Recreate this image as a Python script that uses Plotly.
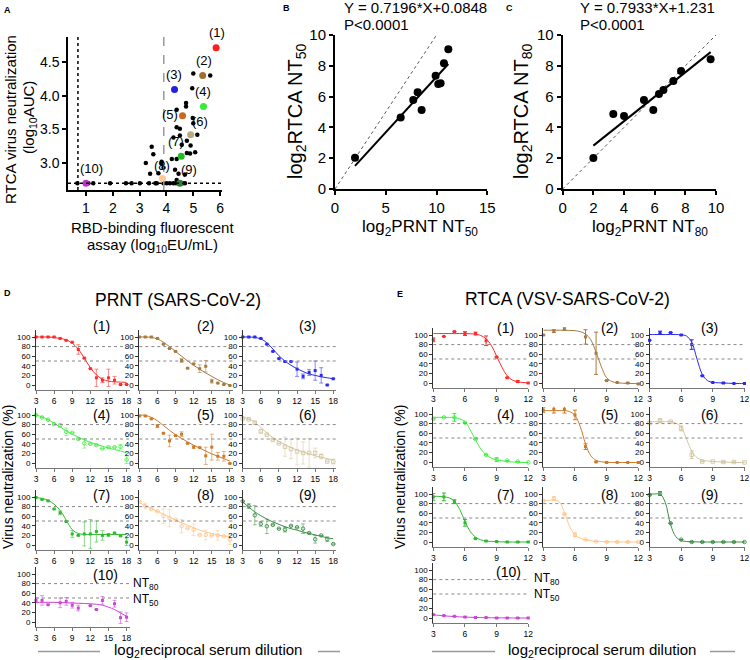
import plotly.graph_objects as go

# ---------------- data ----------------
SAMPLE_LABELS = ["(1)", "(2)", "(3)", "(4)", "(5)", "(6)", "(7)", "(8)", "(9)", "(10)"]

# A: RBD-binding assay vs RTCA AUC
A_OTHER_X = [5.0, 5.63, 4.96, 4.73, 4.73, 4.38, 4.98, 5.0, 4.38, 4.5, 4.26, 4.5, 5.15, 4.76,
             3.45, 3.51, 4.57, 4.9, 4.76, 4.88, 5.07, 4.2, 4.38, 3.82, 3.82, 3.23, 3.7, 3.39,
             3.89, 4.32, 4.45, 4.38, 4.69,
             0.68, 1.09, 1.27, 1.9, 2.49, 2.7, 3.01, 3.35, 3.59, 3.64, 3.89, 4.01, 4.13, 4.26,
             4.35, 4.45, 4.61, 4.69]
A_OTHER_Y = [4.33, 4.30, 4.11, 3.89, 3.84, 3.79, 3.67, 3.59, 3.53, 3.51, 3.38, 3.41, 3.42, 3.33,
             3.24, 3.13, 3.27, 3.26, 3.15, 3.14, 3.16, 3.06, 3.06, 3.02, 3.00, 3.00, 2.85, 2.84,
             2.93, 2.90, 2.84, 2.75, 2.83,
             2.7, 2.7, 2.7, 2.7, 2.7, 2.7, 2.7, 2.7, 2.7, 2.7, 2.7, 2.7, 2.7, 2.7,
             2.7, 2.7, 2.7, 2.7]
A_SAMPLE_X = [5.85, 5.35, 4.30, 5.38, 4.60, 4.90, 4.55, 3.85, 4.50, 1.00]
A_SAMPLE_Y = [4.71, 4.30, 4.09, 3.84, 3.70, 3.42, 3.10, 2.77, 2.70, 2.70]
A_CUTOFF_X = [0.7, 3.9]   # dotted LOD, dashed threshold
A_CUTOFF_Y = 2.7

# B / C: PRNT vs RTCA titres
B_X = [1.97, 6.47, 7.71, 8.14, 8.53, 9.91, 10.17, 10.40, 10.73, 11.16]
B_Y = [2.03, 4.65, 5.78, 6.28, 5.13, 7.36, 6.82, 6.86, 8.16, 9.07]
B_SLOPE, B_INTERCEPT = 0.7196, 0.0848
C_X = [2.00, 3.30, 4.00, 5.30, 5.91, 6.28, 6.57, 7.22, 7.72, 9.65]
C_Y = [2.01, 4.87, 4.74, 5.78, 5.13, 6.17, 6.43, 7.01, 7.66, 8.42]
C_SLOPE, C_INTERCEPT = 0.7933, 1.231
IDENTITY = [0, 10]

# D: PRNT dose-response (log2 dilution 3..18)
PRNT_X = [3, 4, 5, 6, 7, 8, 9, 10, 11, 12, 13, 14, 15, 16, 17, 18]
PRNT_MEAN = [
    [100, 100, 100, 100, 97, 93, 89, 74, 56, 34, 15, 10, 15, 10, 1, 1],
    [100, 100, 100, 97, 85, 76, 70, 51, 35, 44, 34, 39, 8, 4, 1, -1],
    [100, 100, 100, 97, 85, 70, 55, 49, 49, 33, 18, 26, 30, 20, 0, 13],
    [100, 95, 90, 81, 78, 65, 63, 50, 41, 40, 37, 30, 33, 33, 34, 7],
    [98, 98, 92, 77, 62, 46, 57, 60, 41, 33, 32, 15, 33, 14, 14, -1],
    [93, 91, 84, 66, 59, 48, 41, 34, 29, 24, 21, 21, 21, 14, 3, 3],
    [99, 95, 92, 75, 67, 49, 23, 20, 23, 23, 28, 20, 21, 25, 19, 6],
    [91, 81, 75, 70, 60, 56, 53, 39, 35, 32, 21, 21, 20, 20, 18, 11],
    [91, 81, 62, 44, 39, 42, 34, 32, 40, 37, 34, 25, 12, 20, 12, 2],
    [45, 45, 36, None, 40, 43, 35, 29, None, 34, 26, 45, None, 38, 9, 10],
]
PRNT_SD = [
    [0, 0, 0, 0, 0, 0, 0, 10, 0, 0, 18, 5, 18, 8, 0, 0],
    [0, 0, 0, 0, 0, 0, 0, 4, 0, 0, 8, 12, 4, 0, 0, 0],
    [0, 0, 0, 0, 0, 0, 0, 0, 0, 15, 5, 6, 20, 16, 0, 0],
    [0, 0, 0, 0, 4, 8, 0, 0, 10, 0, 0, 0, 0, 0, 5, 8],
    [0, 0, 0, 3, 0, 12, 0, 5, 0, 3, 0, 18, 27, 8, 10, 0],
    [0, 0, 3, 4, 0, 0, 0, 20, 20, 28, 23, 30, 10, 5, 0, 5],
    [0, 0, 0, 0, 4, 0, 7, 0, 25, 30, 22, 10, 3, 0, 0, 7],
    [0, 6, 0, 0, 15, 18, 0, 14, 0, 12, 0, 10, 0, 10, 0, 10],
    [0, 5, 20, 5, 15, 0, 0, 5, 0, 0, 10, 0, 8, 0, 5, 0],
    [5, 10, 0, 0, 10, 8, 6, 6, 0, 0, 0, 8, 0, 7, 12, 9],
]
PRNT_FIT = [
    [100, 100, 100, 99, 97, 94, 87, 75, 56, 36, 21, 12, 8, 6.5, 6, 5.5],
    [100, 100, 99, 96, 89, 80, 70, 60, 50, 41, 33, 25, 18, 11, 5, 0],
    [100, 100, 99, 96, 88, 75, 61, 50, 41, 34, 28, 23, 20, 17, 15, 13],
    [100, 96, 90, 83, 75, 67, 60, 54, 48, 43, 39, 35, 31, 28, 25, 21],
    [100, 99, 95, 88, 78, 68, 59, 51, 44, 37, 31, 25, 19, 14, 9, 4],
    [95, 92, 85, 74, 63, 53, 45, 38, 32, 27, 23, 19, 15, 12, 9, 6],
    [99, 97, 93, 85, 72, 52, 32, 24, 22, 22, 22, 22, 22, 22, 22, 22],
    [88, 82, 76, 70, 64, 58, 52, 46, 41, 36, 31, 27, 24, 21, 19, 17],
    [90, 79, 69, 61, 54, 48, 43, 38, 34, 31, 27, 24, 21, 18, 15, 13],
    [41, 41, 41, 41, 40.5, 40, 39.5, 39, 38.5, 38, 37, 35, 31, 26, 19, 12],
]

# E: RTCA dose-response (log2 dilution 3..12)
RTCA_X = [3, 4, 5, 6, 7, 8, 9, 10, 11, 12]
RTCA_MEAN = [
    [90, 97, 107, 103, 103, 88, 54, 11, 3, 0],
    [100, 108, 113, None, 96, 62, 5, 1, 0, -2],
    [89, 105, 105, 100, 80, 15, 1, 0, -1, -1],
    [90, 93, 93, 82, 48, 15, 5, 3, 1, -1],
    [108, 110, 110, 98, 32, 0, -1, -1, -1, -1],
    [81, 86, 84, 70, 15, 1, 1, 0, 0, -1],
    [94, 94, 84, 40, 7, 2, 1, 0, 0, 0],
    [86, 91, 58, 15, 5, 1, 0, 0, 0, 0],
    [98, 101, 39, 5, 0, 0, 0, 0, 0, 0],
    [7, 5, 3.5, 2, 1, 1, 0, 0, 0, 0],
]
RTCA_SD = [
    [4, 0, 0, 4, 3, 10, 0, 0, 2, 0],
    [0, 3, 3, 0, 15, 44, 0, 0, 0, 0],
    [0, 3, 0, 0, 10, 0, 0, 0, 0, 0],
    [0, 0, 8, 0, 0, 0, 4, 0, 0, 0],
    [5, 8, 8, 10, 6, 0, 0, 0, 0, 0],
    [0, 4, 0, 5, 8, 0, 0, 0, 0, 0],
    [7, 8, 4, 7, 0, 0, 0, 0, 0, 0],
    [0, 3, 0, 4, 0, 0, 0, 0, 0, 0],
    [0, 4, 0, 0, 0, 0, 0, 0, 0, 0],
    [0, 0, 0, 0, 0, 0, 0, 0, 0, 0],
]
RTCA_FIT_X = [3, 3.5, 4, 4.5, 5, 5.5, 6, 6.5, 7, 7.5, 8, 8.5, 9, 9.5, 10, 10.5, 11, 11.5, 12]
RTCA_FIT = [
    [103, 103, 103, 103, 103, 103, 103, 102.5, 102, 99, 92, 78, 56, 33, 15, 6, 2.5, 1, 0.5],
    [110, 110, 110, 110, 110, 109.5, 109, 107, 102, 90, 64, 34, 11, 3, 0.5, -0.5, -1, -1, -1],
    [101, 101, 101, 101, 101, 101, 100.5, 98, 85, 50, 18, 5, 1.5, 0.5, 0, -0.5, -1, -1, -1],
    [93, 93, 93, 93, 92.5, 90, 84, 67, 46, 27, 15, 8, 4.5, 2.5, 1, 0, -0.5, -1, -1.5],
    [107, 107, 107, 107, 107, 105, 97, 74, 38, 13, 3.5, 0.5, -0.5, -1, -1, -1, -1, -1, -1],
    [84, 84, 84, 84, 84, 81, 73, 48, 23, 9, 4, 2, 1, 0.5, 0, -0.5, -1, -1, -1.5],
    [95, 95, 94, 92, 85, 68, 43, 22, 10, 4.5, 2, 1, 0.5, 0.2, 0, 0, 0, 0, 0],
    [87, 87, 87, 84, 62, 32, 15, 8, 4.5, 2.5, 1.5, 1, 0.5, 0.3, 0.2, 0.1, 0, 0, 0],
    [100, 100, 100, 82, 36, 11, 3, 1, 0.5, 0.2, 0, 0, 0, 0, 0, 0, 0, 0, 0],
    [6.5, 5.5, 4.5, 3.7, 3, 2.4, 1.9, 1.5, 1.2, 0.9, 0.7, 0.5, 0.4, 0.3, 0.2, 0.1, 0.1, 0, 0],
]
NT_LEVELS = [80, 50]

# ---------------- styling ----------------
W, H = 750, 660
FONT = "Liberation Sans, Arial, sans-serif"
COLORS = ["#FF2A2A", "#A87A40", "#2A2AF5", "#44EE44", "#CC7A2A",
          "#D3C6A0", "#2DBB2D", "#FFC68C", "#3A8F45", "#CC44D6"]
A_COLORS = ["#FF1E1E", "#A0702A", "#2020E0", "#33EE33", "#C86A1A",
            "#B8AA80", "#22BB22", "#FFC890", "#2E7D32", "#C030D0"]
SYMBOLS = ["square", "square", "square", "circle-open", "square",
           "square-open", "square", "circle-open", "circle-open", "square"]
A_LABEL_SHIFT = [(1, 6), (1, 5), (-1, 6), (0, 5), (-13, -8),
                 (9, 4), (-5, 5), (0, 4), (9, 4), (6, 5)]

fig = go.Figure()
layout = dict(width=W, height=H, margin=dict(l=0, r=0, t=0, b=0), template="none",
              plot_bgcolor="white", paper_bgcolor="white", showlegend=False,
              font=dict(family=FONT, color="black"))
annotations = []
shapes = []
n_axes = [0]


def rgba(hex_color, alpha):
    h = hex_color.lstrip("#")
    return "rgba(%d,%d,%d,%s)" % (int(h[0:2], 16), int(h[2:4], 16), int(h[4:6], 16), alpha)


def axis_style(size, lw, lc="black", ticklen=4):
    return dict(showline=True, linecolor=lc, linewidth=lw, ticks="outside",
                ticklen=ticklen, tickwidth=lw, tickcolor=lc, showgrid=False,
                zeroline=False, automargin=False, fixedrange=True,
                tickfont=dict(size=size, family=FONT, color="black"))


def add_axes(x0, x1, ytop, ybot, xr, yr, xkw, ykw):
    n_axes[0] += 1
    s = "" if n_axes[0] == 1 else str(n_axes[0])
    layout["xaxis" + s] = dict(domain=[x0 / W, x1 / W], range=xr, anchor="y" + s, **xkw)
    layout["yaxis" + s] = dict(domain=[1 - ybot / H, 1 - ytop / H], range=yr, anchor="x" + s, **ykw)
    return "x" + s, "y" + s


def note(text, px, py, size, xanchor="center", angle=0, color="black"):
    annotations.append(dict(text=text, x=px / W, y=1 - py / H, xref="paper", yref="paper",
                            showarrow=False, xanchor=xanchor, yanchor="middle",
                            textangle=angle, font=dict(size=size, family=FONT, color=color)))


def paper_line(x0, x1, py, color="#999", width=1.5):
    shapes.append(dict(type="line", xref="paper", yref="paper", x0=x0 / W, x1=x1 / W,
                       y0=1 - py / H, y1=1 - py / H, line=dict(color=color, width=width)))


# ---------------- panel A ----------------
xa, ya = add_axes(68, 222, 37, 190, [0.33, 6.07], [2.6, 4.87],
                  dict(axis_style(14, 1.5), tickvals=[1, 2, 3, 4, 5, 6]),
                  dict(axis_style(14, 1.5), tickvals=[3.0, 3.5, 4.0, 4.5], tickformat=".1f"))
shapes.append(dict(type="line", xref=xa + " domain", yref=ya, x0=0, x1=1, y0=A_CUTOFF_Y, y1=A_CUTOFF_Y,
                   line=dict(color="black", width=1.5, dash="dot")))
shapes.append(dict(type="line", xref=xa, yref=ya + " domain", x0=A_CUTOFF_X[0], x1=A_CUTOFF_X[0], y0=0, y1=1,
                   line=dict(color="black", width=1.5, dash="dot")))
shapes.append(dict(type="line", xref=xa, yref=ya + " domain", x0=A_CUTOFF_X[1], x1=A_CUTOFF_X[1], y0=0, y1=1,
                   line=dict(color="#9a9a9a", width=1.5, dash="dash")))
fig.add_trace(go.Scatter(x=A_OTHER_X, y=A_OTHER_Y, mode="markers", xaxis=xa, yaxis=ya,
                         marker=dict(size=4.5, color="black"), cliponaxis=False))
fig.add_trace(go.Scatter(x=A_SAMPLE_X, y=A_SAMPLE_Y, mode="markers", xaxis=xa, yaxis=ya,
                         marker=dict(size=7, color=A_COLORS), cliponaxis=False))
for lab, sx, sy, (dx, dy) in zip(SAMPLE_LABELS, A_SAMPLE_X, A_SAMPLE_Y, A_LABEL_SHIFT):
    annotations.append(dict(text=lab, x=sx, y=sy, xref=xa, yref=ya, showarrow=False,
                            xshift=dx, yshift=dy, yanchor="bottom",
                            font=dict(size=13, family=FONT, color="black")))
note("<b>A</b>", 7, 10, 9)
note("RTCA virus neutralization", 10, 120, 15, angle=-90)
note("(log<sub>10</sub>AUC)", 29, 118, 15, angle=-90)
note("RBD-binding fluorescent", 152, 227, 15)
note("assay (log<sub>10</sub>EU/mL)", 152, 245, 15)

# ---------------- panels B, C ----------------
for (x0, x1, xr, xt, px_, py_, slope, icpt, letter, lx, eqx, nt, ylx, xlx) in [
        (335, 487.3, [0, 15], [0, 5, 10, 15], B_X, B_Y, B_SLOPE, B_INTERCEPT, "B", 286, 342, "50", 297, 420),
        (562.7, 716, [0, 10], [0, 2, 4, 6, 8, 10], C_X, C_Y, C_SLOPE, C_INTERCEPT, "C", 509, 578, "80", 523, 650)]:
    xa, ya = add_axes(x0, x1, 35, 189, xr, [0, 10],
                      dict(axis_style(15, 2), tickvals=xt),
                      dict(axis_style(15, 2), tickvals=[0, 2, 4, 6, 8, 10]))
    fig.add_trace(go.Scatter(x=IDENTITY, y=IDENTITY, mode="lines", xaxis=xa, yaxis=ya,
                             line=dict(color="#555", width=1, dash="dot")))
    fx = [min(px_), max(px_)]
    fig.add_trace(go.Scatter(x=fx, y=[slope * v + icpt for v in fx], mode="lines", xaxis=xa, yaxis=ya,
                             line=dict(color="black", width=2)))
    fig.add_trace(go.Scatter(x=px_, y=py_, mode="markers", xaxis=xa, yaxis=ya,
                             marker=dict(size=8, color="black"), cliponaxis=False))
    note("<b>%s</b>" % letter, lx, 8, 9)
    note("Y = %s*X+%s" % (slope, icpt), eqx, 8, 15, xanchor="left")
    note("P<0.0001", eqx, 24, 15, xanchor="left")
    note("log<sub>2</sub>RTCA NT<sub>%s</sub>" % nt, ylx, 112, 20, angle=-90)
    note("log<sub>2</sub>PRNT NT<sub>%s</sub>" % nt, xlx, 228, 17)

# ---------------- panels D, E ----------------
D_COL_X0 = [36, 139.3, 242.7]
E_COL_X0 = [433.3, 543.3, 649.5]
D_ROW_Y100 = [337, 415, 497, 574]
E_ROW_Y100 = [335, 414, 494, 570]
D_TITLE_X = [101.5, 205, 307]
E_TITLE_X = [505, 609, 709]
D_TITLE_Y = [326.5, 415, 495, 575]
E_TITLE_Y = [328, 415, 495, 572]


def dose_panel(i, col_x0, width, y100, xr, xt, xs, mean, sd, fit_x, fit, err_alpha):
    xa, ya = add_axes(col_x0, col_x0 + width, y100 - 7.2, y100 + 52.8, xr, [-10, 115],
                      dict(axis_style(8.5, 1.2, "#777", 3), tickvals=xt),
                      dict(axis_style(8, 1, "#333", 3), tickvals=[0, 20, 40, 60, 80, 100]))
    for lv in NT_LEVELS:
        shapes.append(dict(type="line", xref=xa + " domain", yref=ya, x0=0, x1=1, y0=lv, y1=lv,
                           line=dict(color="#888", width=1, dash="dot")))
    c = COLORS[i]
    is_open = SYMBOLS[i].endswith("open")
    fig.add_trace(go.Scatter(x=fit_x, y=fit, mode="lines", xaxis=xa, yaxis=ya,
                             line=dict(color=c, width=1, shape="spline")))
    fig.add_trace(go.Scatter(
        x=xs, y=mean, mode="markers", xaxis=xa, yaxis=ya, cliponaxis=False,
        marker=dict(size=3.5 if is_open else 3, color=c, symbol=SYMBOLS[i],
                    line=dict(color=c, width=0.9 if is_open else 0)),
        error_y=dict(type="data", array=[v if v else None for v in sd],
                     color=rgba(c, err_alpha), thickness=1, width=2)))


for i in range(10):
    row, col = i // 3, i % 3
    dose_panel(i, D_COL_X0[col], 93.6, D_ROW_Y100[row], [3, 18.5], [3, 6, 9, 12, 15, 18],
               PRNT_X, PRNT_MEAN[i], PRNT_SD[i], PRNT_X, PRNT_FIT[i], 0.55)
    note(SAMPLE_LABELS[i], D_TITLE_X[col] + (4 if i == 9 else 0), D_TITLE_Y[row], 14)
    dose_panel(i, E_COL_X0[col], 95, E_ROW_Y100[row], [3, 12], [3, 6, 9, 12],
               RTCA_X, RTCA_MEAN[i], RTCA_SD[i], RTCA_FIT_X, RTCA_FIT[i], 1)
    note(SAMPLE_LABELS[i], E_TITLE_X[col] + (3 if i == 9 else 0), E_TITLE_Y[row], 14)

note("<b>D</b>", 7, 293, 9)
note("<b>E</b>", 400, 294, 9)
note("PRNT (SARS-CoV-2)", 178, 300, 17.5)
note("RTCA (VSV-SARS-CoV-2)", 567, 299, 17.5)
note("NT<sub>80</sub>", 131, 583.5, 12, xanchor="left")
note("NT<sub>50</sub>", 131, 600, 12, xanchor="left")
note("NT<sub>80</sub>", 532, 579, 12, xanchor="left")
note("NT<sub>50</sub>", 532, 595, 12, xanchor="left")
note("Virus neutralization (%)", 8, 477, 14, angle=-90)
note("Virus neutralization (%)", 400, 477, 14, angle=-90)
note("log<sub>2</sub>reciprocal serum dilution", 208, 650, 15)
note("log<sub>2</sub>reciprocal serum dilution", 602, 650, 15)
paper_line(38, 100, 651.5)
paper_line(318, 340, 651.5)
paper_line(432, 495, 651.5)
paper_line(710, 735, 651.5)

layout["annotations"] = annotations
layout["shapes"] = shapes
fig.update_layout(**layout)
# the page body has a default 8px margin; drop it so the figure fills the window
fig.write_html("out.html", config={"displayModeBar": False},
               post_script="document.body.style.margin='0';")
